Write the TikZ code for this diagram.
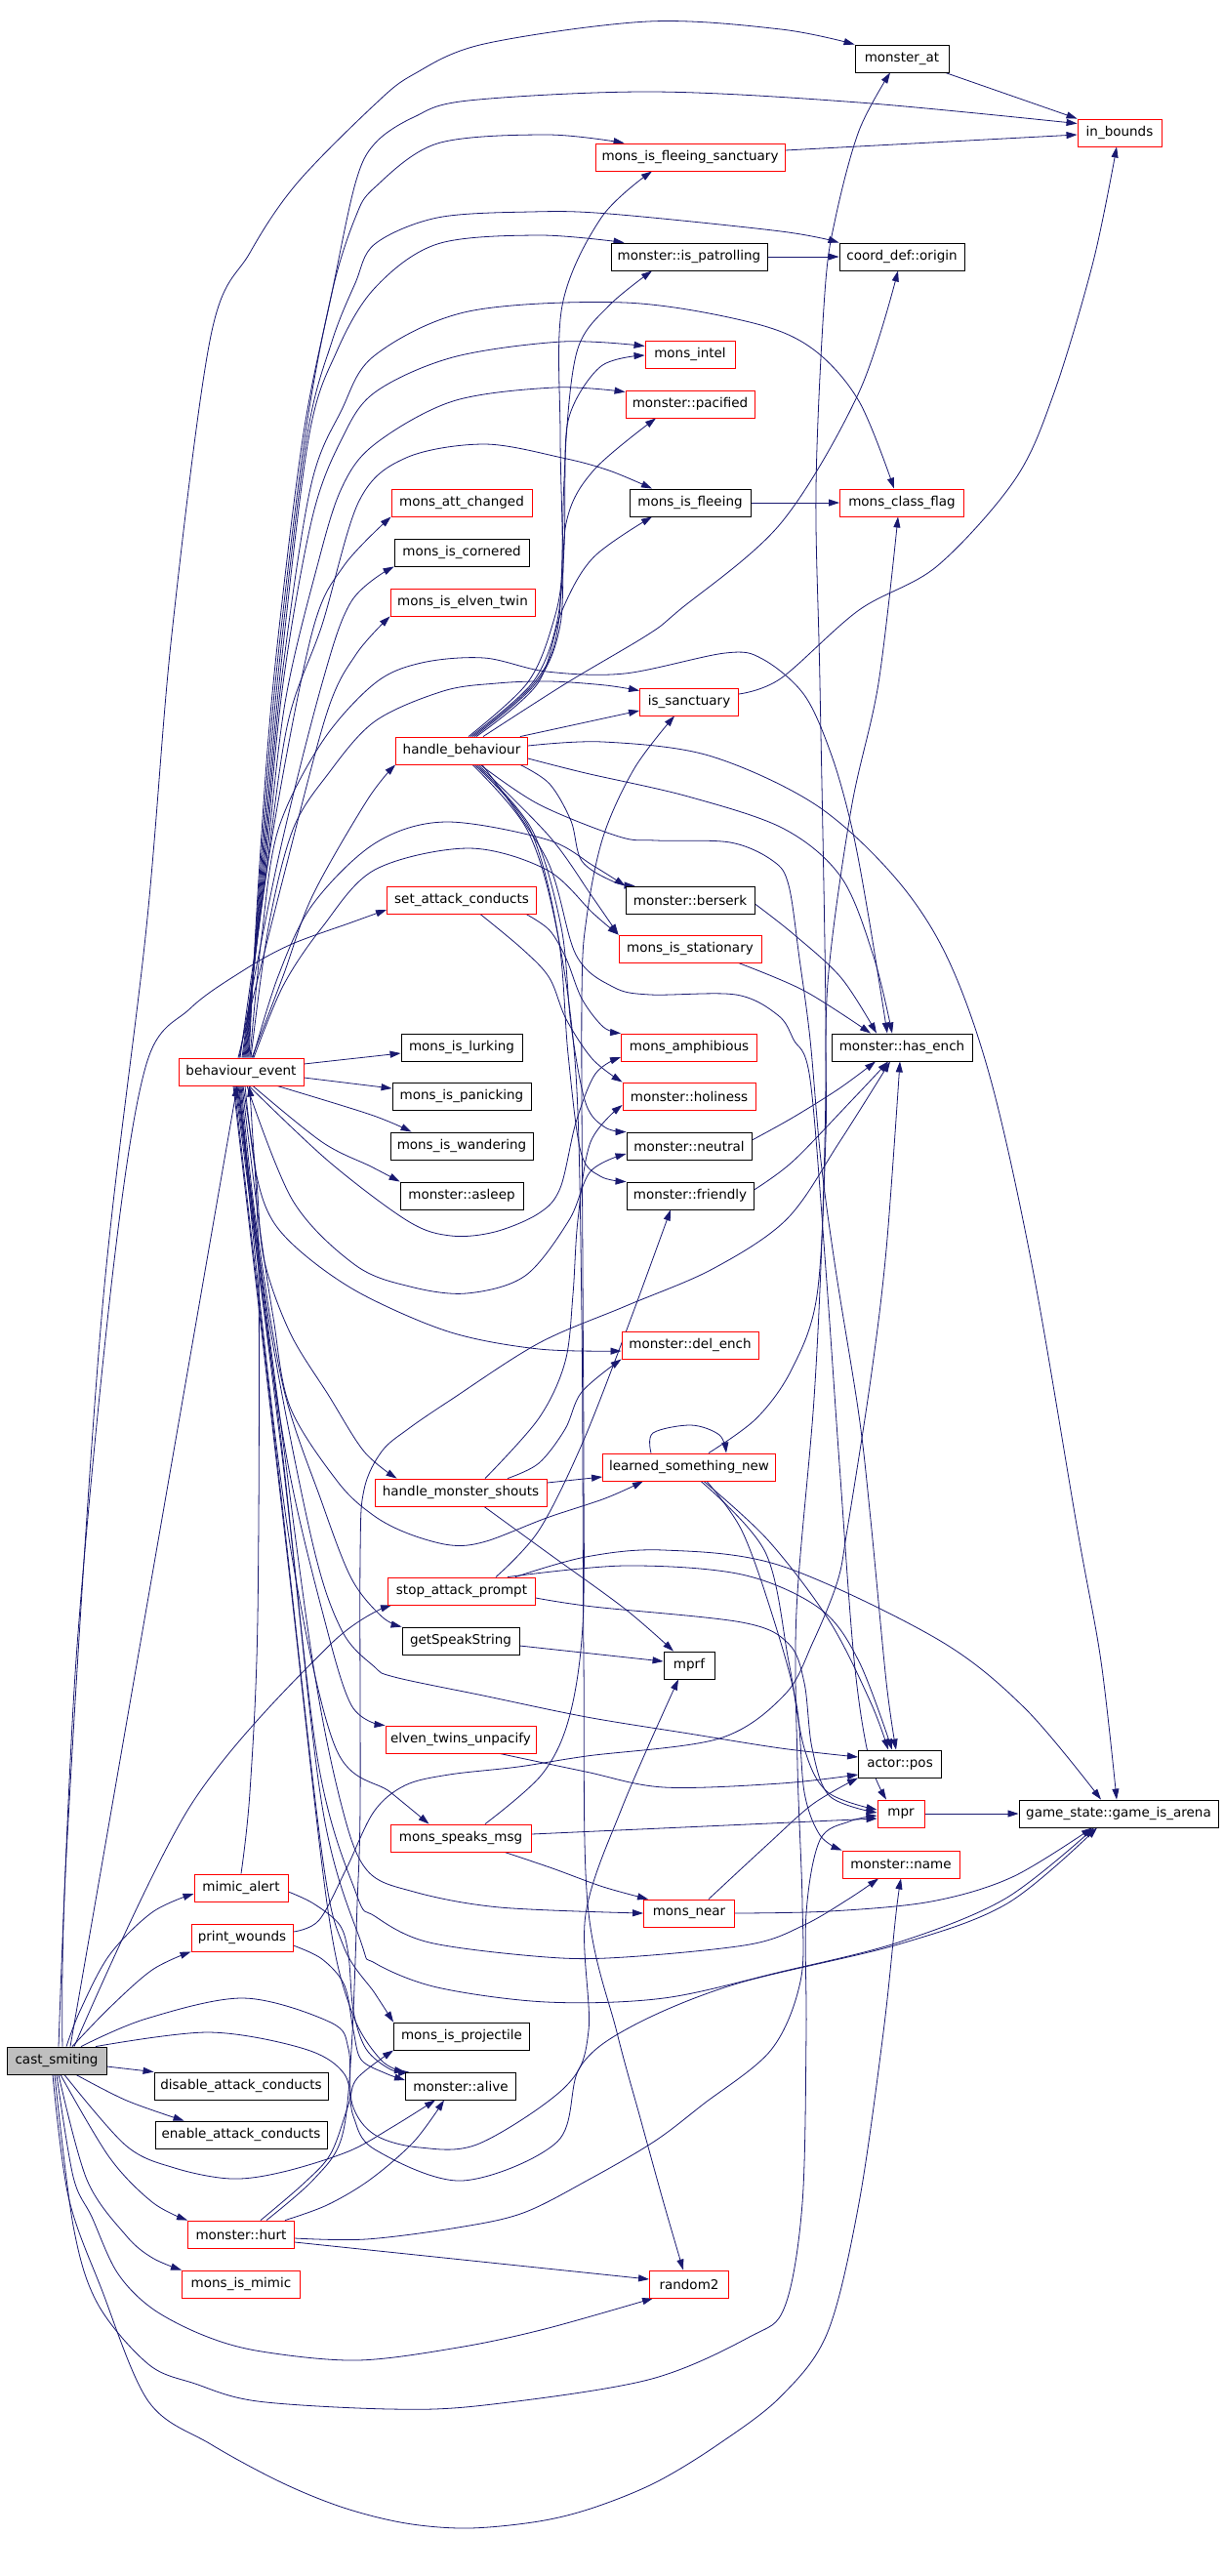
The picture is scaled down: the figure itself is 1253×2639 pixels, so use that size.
\documentclass[tikz,border=0pt]{standalone}
\usepackage{fontspec}
\setmainfont{DejaVu Sans}
\usetikzlibrary{arrows.meta}
\definecolor{edgec}{RGB}{25,25,112}
\definecolor{csgray}{RGB}{191,191,191}
\pgfdeclarelayer{bg}
\pgfsetlayers{bg,main}
\begin{document}
\begin{tikzpicture}[x=1pt,y=-1pt,
  box/.style={draw, line width=0.9pt, minimum height=28pt, inner sep=0pt, fill=white, font=\fontsize{13.5}{16}\selectfont},
  nb/.style={box, draw=black},
  nr/.style={box, draw=red},
  ncs/.style={box, draw=black, fill=csgray},
  ed/.style={draw=edgec, line width=0.8pt, -{Triangle[length=11pt,width=7pt]}},
  sm/.style={smooth, tension=0.55}]
\useasboundingbox (0,0) rectangle (1253,2639);
% nodes
\node[nb, minimum width=96pt] (ma) at (924,60) {monster\_at};
\node[nr, minimum width=86pt] (ib) at (1147,136) {in\_bounds};
\node[nr, minimum width=194pt] (mfs) at (707,161) {mons\_is\_fleeing\_sanctuary};
\node[nb, minimum width=160pt] (pat) at (706,263) {monster::is\_patrolling};
\node[nb, minimum width=128pt] (org) at (924,263) {coord\_def::origin};
\node[nr, minimum width=92pt] (int) at (707,363) {mons\_intel};
\node[nr, minimum width=132pt] (pac) at (707,414) {monster::pacified};
\node[nr, minimum width=144pt] (att) at (473,515) {mons\_att\_changed};
\node[nb, minimum width=124pt] (mif) at (707,515) {mons\_is\_fleeing};
\node[nr, minimum width=127pt] (mcf) at (924,515) {mons\_class\_flag};
\node[nb, minimum width=138pt] (cor) at (473,566) {mons\_is\_cornered};
\node[nr, minimum width=148pt] (etw) at (474,617) {mons\_is\_elven\_twin};
\node[nr, minimum width=101pt] (san) at (706,719) {is\_sanctuary};
\node[nr, minimum width=135pt] (hb) at (473,769) {handle\_behaviour};
\node[nr, minimum width=153pt] (sac) at (473,922) {set\_attack\_conducts};
\node[nb, minimum width=132pt] (ber) at (707,922) {monster::berserk};
\node[nr, minimum width=146pt] (sta) at (707,972) {mons\_is\_stationary};
\node[nb, minimum width=124pt] (lur) at (473,1073) {mons\_is\_lurking};
\node[nr, minimum width=139pt] (amp) at (706,1073) {mons\_amphibious};
\node[nb, minimum width=144pt] (he) at (924,1073) {monster::has\_ench};
\node[nr, minimum width=128pt] (be) at (247,1098) {behaviour\_event};
\node[nb, minimum width=142pt] (pan) at (473,1123) {mons\_is\_panicking};
\node[nr, minimum width=136pt] (hol) at (706,1123) {monster::holiness};
\node[nb, minimum width=146pt] (wan) at (473,1174) {mons\_is\_wandering};
\node[nb, minimum width=128pt] (neu) at (706,1174) {monster::neutral};
\node[nb, minimum width=126pt] (asl) at (473,1225) {monster::asleep};
\node[nb, minimum width=130pt] (fri) at (707,1225) {monster::friendly};
\node[nr, minimum width=140pt] (de) at (707,1378) {monster::del\_ench};
\node[nr, minimum width=177pt] (lsn) at (706,1503) {learned\_something\_new};
\node[nr, minimum width=176pt] (hms) at (472,1529) {handle\_monster\_shouts};
\node[nr, minimum width=151pt] (sap) at (473,1630) {stop\_attack\_prompt};
\node[nb, minimum width=120pt] (gss) at (472,1681) {getSpeakString};
\node[nb, minimum width=52pt] (mprf) at (706,1706) {mprf};
\node[nr, minimum width=154pt] (etu) at (472,1782) {elven\_twins\_unpacify};
\node[nb, minimum width=85pt] (pos) at (922,1807) {actor::pos};
\node[nr, minimum width=48pt] (mpr) at (923,1858) {mpr};
\node[nb, minimum width=204pt] (gia) at (1146,1858) {game\_state::game\_is\_arena};
\node[nr, minimum width=144pt] (msm) at (472,1883) {mons\_speaks\_msg};
\node[nr, minimum width=120pt] (nam) at (923,1910) {monster::name};
\node[nr, minimum width=96pt] (mal) at (247,1934) {mimic\_alert};
\node[nr, minimum width=93pt] (mne) at (706,1960) {mons\_near};
\node[nr, minimum width=104pt] (pw) at (248,1985) {print\_wounds};
\node[nb, minimum width=139pt] (pro) at (473,2086) {mons\_is\_projectile};
\node[ncs, minimum width=102pt] (cs) at (58,2111) {cast\_smiting};
\node[nb, minimum width=178pt] (dac) at (247,2137) {disable\_attack\_conducts};
\node[nb, minimum width=113pt] (ali) at (472,2137) {monster::alive};
\node[nb, minimum width=176pt] (eac) at (247,2187) {enable\_attack\_conducts};
\node[nr, minimum width=109pt] (hur) at (247,2289) {monster::hurt};
\node[nr, minimum width=121pt] (mim) at (247,2340) {mons\_is\_mimic};
\node[nr, minimum width=81pt] (r2) at (706,2340) {random2};
\begin{pgfonlayer}{bg}
\fill[white] (0,0) rectangle (1253,2639);
% ---- cast_smiting
\draw[ed] plot[sm] coordinates {([xshift=6pt]cs.north) (68,1900) (104,1350) (150,950) (176,650) (216,344) (256,259) (304,188) (384,107) (424,76) (496,45) (664,22) (800,30) (ma.north west)};
\draw[ed] ([xshift=14pt]cs.north) -- ([xshift=-4pt]be.south);
\draw[ed] plot[sm] coordinates {([xshift=2pt]cs.north) (78,1700) (116,1300) (150,1090) (195,1033) (248,995) (297,968) (360,945) ([yshift=-10pt]sac.west)};
\draw[ed] plot[sm] coordinates {([xshift=18pt]cs.north) (195,1850) (337,1686) ([xshift=4pt]sap.south west)};
\draw[ed] plot[sm] coordinates {([xshift=10pt]cs.north) (82,2060) (112,2003) (156,1959) ([yshift=-6pt]mal.west)};
\draw[ed] plot[sm] coordinates {([xshift=16pt]cs.north) (112,2057) (156,2018) (pw.south west)};
\draw[ed] ([yshift=-6pt]cs.east) -- (dac.north west);
\draw[ed] plot[sm] coordinates {([xshift=20pt]cs.south) (130,2152) ([xshift=30pt]eac.north west)};
\draw[ed] plot[sm] coordinates {([xshift=4pt]cs.south) (112,2210) (156,2256) (hur.north west)};
\draw[ed] plot[sm] coordinates {([xshift=2pt]cs.south) (89,2233) (129,2290) (156,2313) (mim.north west)};
\draw[ed] plot[sm] coordinates {(cs.south) (75,2230) (94,2271) (120,2328) (156,2365) (210,2393) (268,2409) (366,2418) (469,2405) (558,2386) ([xshift=4pt]r2.south west)};
\draw[ed] plot[sm] coordinates {([xshift=-2pt]cs.south) (75,2280) (100,2360) (152,2422) (200,2442) (264,2460) (400,2468) (496,2464) (664,2438) (768,2394) (804,2363) (822,2257) (826,2082) (826,1960) (840,1885) (870,1866) ([yshift=-2pt]mpr.west)};
\draw[ed] plot[sm] coordinates {([xshift=-4pt]cs.south) (70,2250) (104,2345) (152,2460) (216,2504) (288,2543) (352,2569) (416,2585) (480,2590) (552,2583) (608,2569) (672,2543) (736,2504) (800,2455) (848,2389) (880,2257) (905,2082) (918,1960) (nam.south)};
\draw[ed] plot[sm] coordinates {([xshift=8pt]cs.south) (129,2198) (179,2221) (237,2232) (290,2225) (357,2204) (402,2179) ([xshift=-26pt]ali.south)};
\draw[ed] plot[sm] coordinates {([xshift=25pt]cs.north) (150,2068) (250,2047) (339,2072) (357,2099) (361,2156) (384,2187) (430,2200) (491,2196) (580,2137) (603,2080) (600,1961) (638,1850) ([xshift=-11pt]mprf.south)};
\draw[ed] plot[sm] coordinates {([xshift=40pt]cs.north) (214,2082) (312,2099) (353,2125) (362,2168) (384,2202) (473,2234) (571,2194) (594,2118) (647,2076) (752,2033) (920,1992) (1032,1950) ([xshift=-22pt]gia.south)};
% ---- behaviour_event upward
\draw[ed] plot[sm] coordinates {([xshift=8pt]be.north) (265,900) (280,700) (310,450) (340,300) (364,188) (384,147) (424,120) (480,103) (668,94) (880,105) ([yshift=-5pt]ib.north west)};
\draw[ed] plot[sm] coordinates {([xshift=7pt]be.north) (266,900) (282,700) (312,450) (340,300) (364,223) (384,192) (448,147) (560,138) ([xshift=30pt]mfs.north west)};
\draw[ed] plot[sm] coordinates {([xshift=6pt]be.north) (267,900) (284,700) (314,450) (340,350) (364,290) (384,250) (448,223) (544,217) (624,219) (800,237) (org.north west)};
\draw[ed] plot[sm] coordinates {([xshift=5pt]be.north) (268,900) (286,700) (316,450) (345,360) (384,295) (448,250) (552,241) ([xshift=14pt]pat.north west)};
\draw[ed] plot[sm] coordinates {([xshift=4pt]be.north) (269,900) (288,700) (318,500) (350,420) (384,364) (480,319) (640,310) (768,330) (832,357) (880,411) ([xshift=-8pt]mcf.north)};
\draw[ed] plot[sm] coordinates {([xshift=3pt]be.north) (270,900) (290,700) (320,530) (350,450) (384,402) (464,366) (576,350) ([yshift=-6pt]int.north west)};
\draw[ed] plot[sm] coordinates {([xshift=2pt]be.north) (271,900) (292,720) (325,580) (350,500) (384,455) (464,411) (568,397) ([yshift=-2pt]pac.north west)};
\draw[ed] plot[sm] coordinates {([xshift=1pt]be.north) (272,900) (295,740) (330,640) (368,513) (416,469) (496,455) (576,469) (624,482) ([xshift=-39pt]mif.north)};
\draw[ed] plot[sm] coordinates {([xshift=-1pt]be.north) (280,850) (320,647) (352,580) (att.south west)};
\draw[ed] plot[sm] coordinates {([xshift=-2pt]be.north) (285,880) (330,700) (360,616) (cor.south west)};
\draw[ed] plot[sm] coordinates {([xshift=-3pt]be.north) (290,900) (335,730) (365,670) (etw.south west)};
\draw[ed] plot[sm] coordinates {([xshift=9pt]be.north) (268,960) (285,850) (330,760) (384,700) (432,679) (496,674) (560,688) (640,690) (743,669) (781,675) (824,712) (852,774) (873,849) (890,940) ([xshift=-15pt]he.north)};
\draw[ed] plot[sm] coordinates {([xshift=10pt]be.north) (275,950) (300,850) (336,793) (384,739) (454,708) (509,700) (563,698) (620,702) ([yshift=-3pt]san.north west)};
\draw[ed] plot[sm] coordinates {([xshift=11pt]be.north) (290,1000) (320,918) (376,820) (hb.south west)};
\draw[ed] plot[sm] coordinates {([xshift=12pt]be.north) (285,1000) (320,927) (384,864) (456,842) (560,860) (608,887) (ber.north west)};
\draw[ed] plot[sm] coordinates {([xshift=13pt]be.north) (290,1010) (330,950) (384,891) (480,869) (560,891) (608,936) (sta.north west)};
\draw[ed] ([yshift=8pt]be.east) -- ([yshift=-6pt]lur.west);
\draw[ed] ([yshift=-6pt]be.east) -- ([yshift=8pt]pan.west);
\draw[ed] plot[sm] coordinates {([xshift=37pt]be.south) (380,1142) ([xshift=22pt]wan.north west)};
\draw[ed] plot[sm] coordinates {([xshift=12pt]be.south) (330,1170) (380,1195) (asl.north west)};
% ---- behaviour_event downward
\draw[ed] plot[sm] coordinates {([xshift=8pt]be.south) (337,1190) (418,1251) (462,1266) (507,1262) (552,1243) (574,1217) (590,1150) (610,1100) ([yshift=-10pt]amp.west)};
\draw[ed] plot[sm] coordinates {([xshift=6pt]be.south) (300,1230) (364,1296) (420,1318) (478,1325) (538,1307) (583,1250) (605,1200) ([yshift=-8pt]neu.west)};
\draw[ed] plot[sm] coordinates {([xshift=4pt]be.south) (262,1200) (279,1250) (315,1288) (373,1327) (462,1365) (552,1382) ([yshift=-6pt]de.west)};
\draw[ed] plot[sm] coordinates {([xshift=2pt]be.south) (262,1200) (270,1288) (297,1365) (337,1430) (373,1487) ([xshift=23pt]hms.north west)};
\draw[ed] plot[sm] coordinates {([xshift=1pt]be.south) (265,1250) (280,1350) (297,1441) (346,1518) (382,1552) (418,1571) (462,1583) (498,1579) (560,1555) (620,1535) ([xshift=-47pt]lsn.south)};
\draw[ed] plot[sm] coordinates {(be.south) (262,1250) (290,1420) (329,1537) (360,1617) (391,1656) (gss.north west)};
\draw[ed] plot[sm] coordinates {([xshift=-1pt]be.south) (265,1300) (295,1500) (330,1650) (360,1747) (etu.north west)};
\draw[ed] plot[sm] coordinates {([xshift=-2pt]be.south) (268,1350) (300,1600) (344,1791) (400,1836) ([xshift=40pt]msm.north west)};
\draw[ed] plot[sm] coordinates {([xshift=-3pt]be.south) (275,1350) (320,1580) (350,1670) (383,1707) (404,1718) (495,1737) (601,1759) (706,1776) (800,1791) ([yshift=7pt]pos.west)};
\draw[ed] plot[sm] coordinates {([xshift=-4pt]be.south) (280,1400) (320,1700) (350,1850) (376,1916) (424,1938) (512,1954) (mne.west)};
\draw[ed] plot[sm] coordinates {([xshift=-5pt]be.south) (285,1450) (325,1800) (365,1940) (384,1963) (440,1990) (560,2005) (640,2005) (768,1992) (824,1972) (870,1945) ([xshift=-23pt]nam.south)};
\draw[ed] plot[sm] coordinates {([xshift=-6pt]be.south) (290,1500) (330,1850) (370,1990) (384,2011) (448,2036) (560,2051) (680,2047) (800,2020) (920,1990) (1030,1945) ([xshift=-25pt]gia.south)};
\draw[ed] plot[sm] coordinates {([xshift=-7pt]be.south) (290,1550) (330,1900) (352,1994) (384,2042) (pro.north west)};
\draw[ed] plot[sm] coordinates {([xshift=-8pt]be.south) (295,1600) (335,1950) (360,2060) (390,2110) (ali.north west)};
% ---- handle_behaviour
\draw[ed] plot[sm] coordinates {([xshift=7pt]hb.north) (540,700) (566,640) (576,580) (574,446) (576,313) (616,223) ([xshift=-39pt]mfs.south)};
\draw[ed] plot[sm] coordinates {([xshift=9pt]hb.north) (545,700) (570,640) (578,560) (580,450) (592,357) (624,313) ([xshift=-38pt]pat.south)};
\draw[ed] plot[sm] coordinates {([xshift=11pt]hb.north) (547,700) (572,640) (578,491) (584,424) (616,375) ([yshift=-1pt]int.west)};
\draw[ed] plot[sm] coordinates {([xshift=13pt]hb.north) (549,700) (574,640) (580,536) (608,482) ([xshift=-35pt]pac.south)};
\draw[ed] plot[sm] coordinates {([xshift=15pt]hb.north) (551,700) (576,625) (608,571) ([xshift=-39pt]mif.south)};
\draw[ed] plot[sm] coordinates {([xshift=22pt]hb.north) (580,700) (664,650) (696,625) (800,536) (880,402) ([xshift=-4pt]org.south)};
\draw[ed] ([xshift=-8pt]hb.north east) -- ([yshift=-9pt]san.west);
\draw[ed] plot[sm] coordinates {([yshift=5pt]hb.east) (618,760) (726,774) (835,824) (917,899) (971,982) (1015,1106) (1058,1300) (1104,1568) (1128,1702) ([xshift=-2pt]gia.north)};
\draw[ed] plot[sm] coordinates {([yshift=-8pt]hb.east) (600,792) (705,816) (803,849) (862,899) (895,980) ([xshift=-10pt]he.north)};
\draw[ed] plot[sm] coordinates {([xshift=-8pt]hb.south east) (563,803) (585,841) (596,882) (628,903) ([xshift=10pt]ber.north west)};
\draw[ed] plot[sm] coordinates {([xshift=17pt]hb.south) (563,857) (607,919) (sta.north west)};
\draw[ed] plot[sm] coordinates {([xshift=15pt]hb.south) (545,850) (575,950) (585,1050) (600,1130) (620,1155) (neu.north west)};
\draw[ed] plot[sm] coordinates {([xshift=13pt]hb.south) (543,850) (572,960) (582,1080) (595,1180) (615,1205) (fri.north west)};
\draw[ed] plot[sm] coordinates {([xshift=11pt]hb.south) (540,850) (570,950) (590,1100) (596,1350) (598,1700) (602,1950) (632,2082) (656,2170) (680,2257) ([xshift=-6pt]r2.north)};
\draw[ed] plot[sm] coordinates {([xshift=19pt]hb.south) (552,824) (634,857) (672,861) (748,863) (792,882) (808,907) (819,982) (830,1065) (841,1189) (856,1300) (880,1450) (892,1557) (908,1723) ([xshift=-4pt]pos.north)};
\draw[ed] plot[sm] coordinates {([xshift=21pt]hb.south) (560,880) (590,978) (628,1011) (666,1019) (754,1019) (797,1040) (813,1065) (830,1106) (846,1300) (860,1500) (875,1700) (890,1800) ([xshift=-15pt]mpr.north)};
% ---- set_attack_conducts
\draw[ed] plot[sm] coordinates {([xshift=-11pt]sac.south east) (563,953) (580,982) (596,1023) (618,1052) (amp.north west)};
\draw[ed] plot[sm] coordinates {([xshift=19pt]sac.south) (536,973) (563,1002) (580,1044) (607,1085) (hol.north west)};
% ---- learned_something_new
\draw[ed] plot[sm] coordinates {([xshift=-39pt]lsn.north) (669,1468) (708,1460) (737,1470) ([xshift=38pt]lsn.north)};
\draw[ed] plot[sm] coordinates {([xshift=20pt]lsn.north) (775,1453) (811,1403) (837,1327) (846,1165) (848,1007) (872,829) (900,700) ([xshift=-4pt]mcf.south)};
\draw[ed] plot[sm] coordinates {([xshift=15pt]lsn.south) (787,1578) (850,1661) (892,1744) ([xshift=-12pt]pos.north)};
\draw[ed] plot[sm] coordinates {([xshift=12pt]lsn.south) (784,1590) (808,1702) (824,1791) (848,1836) ([yshift=4pt]mpr.west)};
\draw[ed] plot[sm] coordinates {([xshift=18pt]lsn.south) (760,1568) (792,1657) (816,1746) (824,1836) (840,1880) (nam.north west)};
% ---- handle_monster_shouts
\draw[ed] ([yshift=10pt]hms.east) -- ([yshift=-10pt]lsn.west);
\draw[ed] plot[sm] coordinates {([xshift=48pt]hms.north) (552,1499) (579,1464) (596,1426) (de.south west)};
\draw[ed] plot[sm] coordinates {([xshift=25pt]hms.north) (552,1453) (579,1395) (587,1326) (592,1250) (605,1170) ([yshift=-9pt]hol.west)};
\draw[ed] plot[sm] coordinates {([xshift=24pt]hms.south) (560,1590) (640,1648) ([xshift=-16pt]mprf.north)};
\draw[ed] ([yshift=-5pt]gss.east) -- ([yshift=4pt]mprf.west);
% ---- stop_attack_prompt
\draw[ed] plot[sm] coordinates {([xshift=35pt]sap.north) (552,1568) (596,1480) (641,1365) ([xshift=-20pt]fri.south)};
\draw[ed] plot[sm] coordinates {([xshift=47pt]sap.north) (640,1604) (760,1613) (840,1648) (880,1702) ([xshift=-8pt]pos.north)};
\draw[ed] plot[sm] coordinates {([xshift=55pt]sap.north) (600,1595) (680,1588) (800,1604) (960,1679) (1050,1750) ([xshift=-18pt]gia.north)};
\draw[ed] plot[sm] coordinates {([yshift=-7pt]sap.east) (608,1646) (760,1662) (808,1684) (824,1724) (832,1791) (850,1840) ([yshift=1pt]mpr.west)};
% ---- others
\draw[ed] plot[sm] coordinates {([xshift=40pt]etu.south) (600,1815) (680,1831) (800,1827) ([yshift=-11pt]pos.west)};
\draw[ed] ([yshift=4pt]msm.east) -- ([yshift=-5pt]mpr.west);
\draw[ed] plot[sm] coordinates {([xshift=45pt]msm.south) (566,1914) (618,1933) ([xshift=5pt]mne.north west)};
\draw[ed] plot[sm] coordinates {([xshift=25pt]msm.north) (555,1818) (583,1760) (597,1665) (598,1500) (597,1300) (596,1023) (601,940) (618,857) (650,787) ([xshift=-15pt]san.south)};
\draw[ed] plot[sm] coordinates {([xshift=20pt]mne.north) (787,1889) (833,1848) (pos.south west)};
\draw[ed] plot[sm] coordinates {(mne.east) (850,1958) (954,1948) (1037,1923) ([xshift=-27pt]gia.south)};
\draw[ed] (mpr.east) -- (gia.west);
\draw[ed] ([xshift=-4pt]ma.south east) -- (ib.north west);
\draw[ed] ([yshift=7pt]mfs.east) -- ([yshift=-2pt]ib.west);
\draw[ed] (pat.east) -- (org.west);
\draw[ed] (mif.east) -- (mcf.west);
\draw[ed] plot[sm] coordinates {([yshift=8pt]san.east) (800,695) (880,625) (960,580) (1040,491) (1080,402) (1120,268) ([xshift=-3pt]ib.south)};
\draw[ed] plot[sm] coordinates {([yshift=-4pt]ber.east) (813,957) (862,1002) ([xshift=-26pt]he.north)};
\draw[ed] plot[sm] coordinates {([xshift=-24pt]sta.south east) (824,1015) ([xshift=-32pt]he.north)};
\draw[ed] plot[sm] coordinates {([yshift=6pt]neu.east) (812,1145) (860,1115) ([xshift=-27pt]he.south)};
\draw[ed] plot[sm] coordinates {([yshift=6pt]fri.east) (812,1190) (870,1130) ([xshift=-14pt]he.south)};
% ---- monster::hurt
\draw[ed] plot[sm] coordinates {([xshift=20pt]hur.north) (312,2236) (339,2206) (357,2156) (366,2129) (pro.south west)};
\draw[ed] plot[sm] coordinates {([xshift=26pt]hur.north) (321,2233) (350,2190) (360,2100) (366,1950) (369,1850) (369,1594) (373,1526) (391,1487) (418,1464) (462,1434) (552,1376) (641,1338) (730,1300) (806,1249) (860,1170) ([xshift=-12pt]he.south)};
\draw[ed] plot[sm] coordinates {([xshift=-10pt]hur.north east) (335,2259) (379,2233) (424,2194) ([xshift=-17pt]ali.south)};
\draw[ed] ([yshift=-8pt]hur.east) -- ([yshift=5pt]r2.west);
\draw[ed] plot[sm] coordinates {([yshift=-4pt]hur.east) (375,2294) (469,2282) (536,2267) (603,2233) (670,2194) (720,2156) (790,2100) (820,2030) (822,1950) (817,1808) (816,1650) (834,1433) (843,1241) (846,1050) (840,700) (836,500) (845,300) (856,223) (880,134) ([xshift=-12pt]ma.south)};
% ---- print_wounds, mimic_alert
\draw[ed] plot[sm] coordinates {([yshift=6pt]pw.east) (327,1967) (355,1914) (383,1856) (415,1829) (460,1818) (531,1810) (601,1799) (737,1781) (804,1736) (833,1682) (858,1620) (868,1567) (892,1413) (908,1280) ([xshift=-2pt]he.south)};
\draw[ed] plot[sm] coordinates {([yshift=-8pt]pw.east) (330,2007) (353,2034) (362,2080) (370,2110) (395,2124) ([yshift=6pt]ali.west)};
\draw[ed] plot[sm] coordinates {(mal.north) (256,1836) (264,1657) (265,1300) (258,1150) ([xshift=8pt]be.south)};
\draw[ed] plot[sm] coordinates {([yshift=-4pt]mal.east) (321,1950) (348,1972) (357,2003) (362,2060) (375,2099) (400,2120) ([xshift=4pt]ali.north west)};
\end{pgfonlayer}
\end{tikzpicture}
\end{document}
